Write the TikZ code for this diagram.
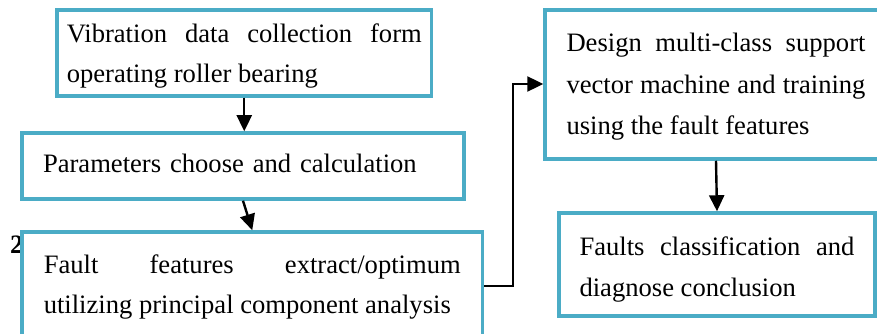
\documentclass[tikz,border=0pt]{standalone}
\usepackage{fontspec}
\setmainfont{Liberation Serif}
\usetikzlibrary{arrows.meta,calc}
\definecolor{boxblue}{HTML}{4BACC6}
\hyphenpenalty=10000
\exhyphenpenalty=10000
\hbadness=10000
\begin{document}
\begin{tikzpicture}[x=1pt,y=-1pt,
  box/.style={draw=boxblue,line width=3.5pt,fill=white,anchor=north west,
    inner ysep=0pt,align=justify},
  lft/.style={font=\fontsize{26.6}{40}\selectfont},
  rgt/.style={font=\fontsize{26.6}{41.5}\selectfont},
  arr/.style={draw=black,line width=2.4pt,-{Triangle[length=16pt,width=15pt]}}]
\useasboundingbox (0,0) rectangle (877,334);
\clip (0,0) rectangle (877,334);
\node[font=\fontsize{26.6}{32}\selectfont\bfseries,anchor=base west,inner sep=0pt] (two) at (10,253) {2};
\node[box,lft,text width=355pt,inner xsep=9.75pt,text height=33pt,text depth=53pt] (b1) at (55.25,8.25)
  {Vibration data collection form\linebreak operating roller bearing};
\node[box,lft,align=left,text width=400pt,inner xsep=21pt,text height=39pt,text depth=27pt] (b2) at (20.25,131.25)
  {Parameters choose and calculation};
\node[box,lft,text width=417pt,inner xsep=21.75pt,text height=41pt,text depth=120pt] (b3) at (20.25,230.25)
  {Fault features extract/optimum\linebreak utilizing principal component analysis};
\node[box,rgt,text width=299pt,inner xsep=21.5pt,text height=42pt,text depth=107pt] (b4) at (543.25,8.25)
  {Design multi-class support\linebreak vector machine and training\linebreak using the fault features};
\node[box,rgt,text width=275pt,inner xsep=20.5pt,text height=42pt,text depth=61pt] (b5) at (557.25,211.25)
  {Faults classification and\linebreak diagnose conclusion};
\draw[arr] (b1.south) -- (b1.south |- b2.north);
\draw[arr] (b2.south) -- (b3.north);
\draw[arr] ([yshift=-55.75pt]b3.north east) -- ++(29,0) |- ([yshift=-75.75pt]b4.north west);
\draw[arr] (b4.south) -- (b5.north);
\end{tikzpicture}
\end{document}
